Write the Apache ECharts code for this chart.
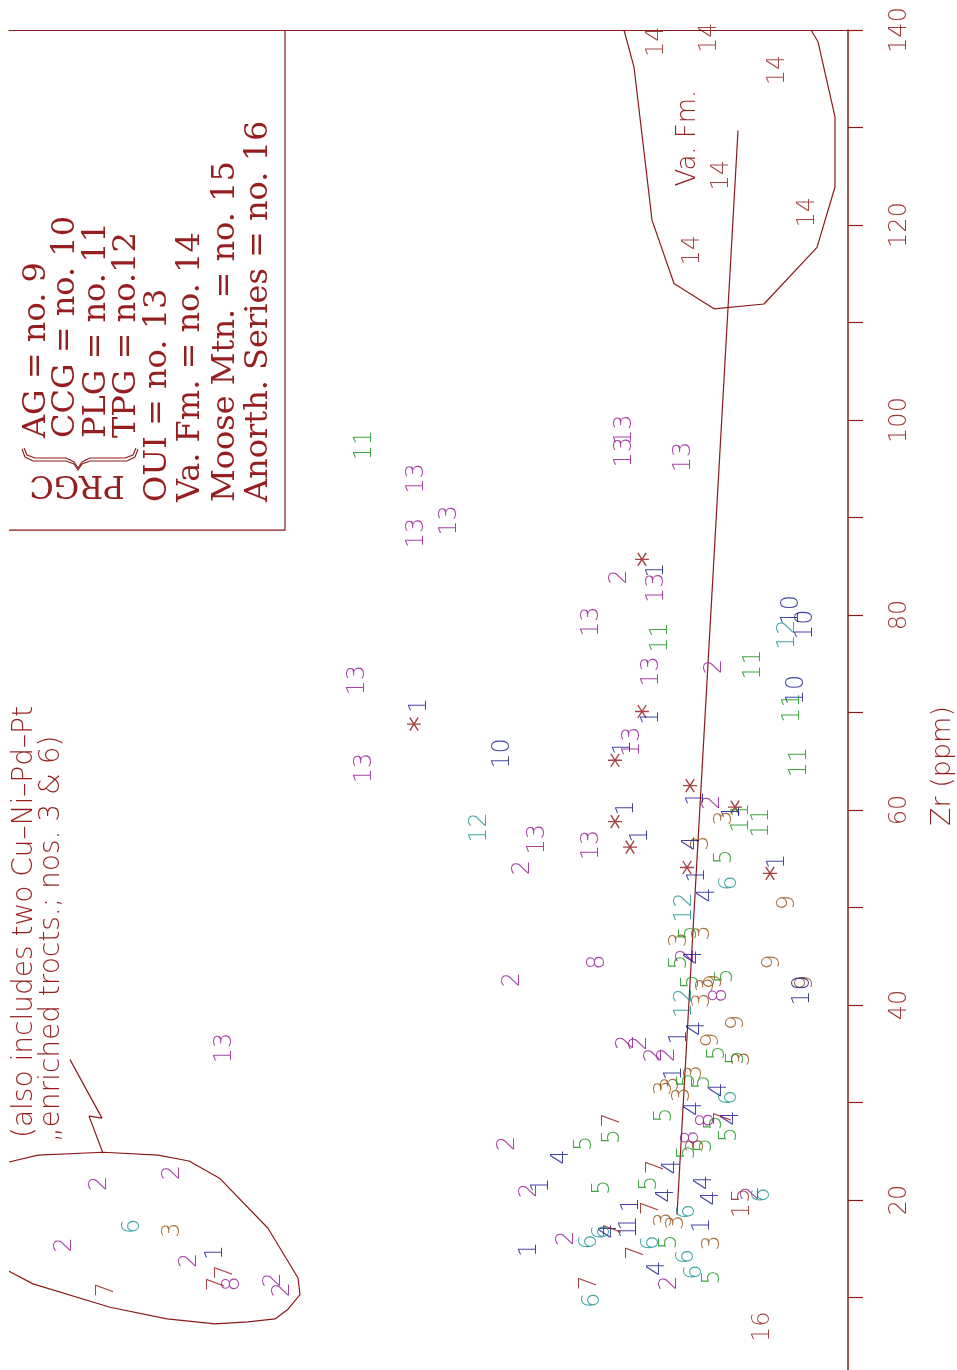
<!DOCTYPE html>
<html>
  <head>
    <meta charset="utf-8" />
    <title>Zr (ppm)</title>
    <script src="https://cdn.jsdelivr.net/npm/echarts/dist/echarts.min.js"></script>
    <style>html, body { margin: 0; padding: 0; background: #fff; }</style>
  </head>
  <body>
    <div id="main" style="width: 957px; height: 1370px;"></div>
    <script type="text/javascript">
      // points as [horizontal position (unlabelled axis), Zr ppm]
      var g1 = [[64.8, 84.6], [64.3, 69.5], [61.5, 66.4], [41.1, 70.7], [68.8, 61.2], [72.4, 59.8], [61.8, 60.2],
                [63.2, 57.4], [68.9, 53.3], [76.9, 54.7], [67.1, 36.7], [66.6, 33.0], [53.3, 21.5], [62.3, 19.5],
                [62.1, 17.6], [62.1, 16.8], [69.4, 17.4], [52.1, 14.9], [20.7, 14.6]];
      var g2 = [[61.1, 83.9], [70.6, 74.7], [70.4, 60.8], [51.4, 54.1], [67.8, 45.1], [50.4, 42.6], [61.8, 36.2],
                [63.1, 36.1], [64.6, 34.9], [65.9, 34.9], [49.9, 25.8], [52.1, 21.0], [74.3, 20.7], [55.8, 16.1],
                [66.1, 11.5], [9.1, 21.7], [16.4, 22.8], [5.6, 15.4], [18.1, 13.8], [26.5, 11.8], [27.4, 10.8]];
      var g3 = [[71.6, 59.2], [69.3, 56.6], [67.1, 46.7], [69.4, 47.4], [69.8, 42.1], [69.4, 40.5], [73.4, 34.5],
                [65.6, 31.5], [66.3, 31.9], [68.6, 33.1], [67.4, 30.8], [68.8, 25.6], [65.6, 18.0], [66.8, 17.7],
                [70.4, 15.6], [16.4, 16.9]];
      var g4 = [[68.4, 56.6], [69.9, 51.3], [68.6, 44.9], [68.9, 37.6], [71.1, 31.3], [68.6, 29.4], [72.3, 28.4],
                [55.3, 24.4], [66.4, 23.4], [65.8, 20.5], [69.6, 21.8], [70.3, 20.2], [60.1, 16.8], [64.9, 13.0]];
      var g5 = [[71.6, 55.2], [68.1, 47.4], [67.1, 44.4], [68.3, 42.4], [71.7, 43.0], [70.9, 35.1], [72.8, 34.6],
                [67.9, 32.3], [69.4, 32.1], [65.6, 28.7], [70.6, 27.9], [72.1, 26.7], [60.4, 26.5], [67.9, 24.9],
                [69.6, 25.6], [57.6, 25.8], [64.1, 21.7], [59.4, 21.3], [66.1, 15.7], [70.4, 12.1]];
      var g6 = [[72.1, 52.5], [72.1, 30.5], [75.4, 20.5], [67.9, 18.8], [59.4, 16.7], [58.1, 15.7], [64.3, 15.6],
                [67.8, 14.2], [68.6, 12.6], [58.4, 9.7], [12.4, 17.3]];
      var g7 = [[60.4, 28.2], [71.6, 28.4], [64.8, 23.4], [64.3, 19.2], [60.6, 16.9], [62.8, 14.6], [58.1, 11.5],
                [9.8, 10.8], [21.7, 12.6], [20.9, 11.4]];
      var g8 = [[58.9, 44.4], [71.1, 41.0], [69.8, 28.2], [68.3, 26.4], [22.4, 11.4]];
      var g9 = [[77.9, 50.5], [76.4, 44.4], [70.6, 42.4], [79.7, 42.3], [72.8, 38.2], [70.3, 36.4]];
      var g10 = [[78.3, 80.5], [79.7, 79.0], [78.8, 72.3], [49.4, 65.8], [79.4, 41.5]];
      var g11 = [[35.6, 97.4], [65.2, 77.7], [74.5, 74.9], [78.4, 70.5], [79.1, 64.9], [73.3, 59.2], [75.3, 58.7]];
      var g12 = [[77.9, 78.0], [47.1, 58.2], [67.6, 50.0], [67.6, 40.2]];
      var g13 = [[40.8, 94.0], [44.1, 89.7], [40.8, 88.4], [61.6, 99.0], [61.6, 96.7], [67.5, 96.2], [58.3, 79.3],
                 [64.8, 82.8], [64.3, 74.2], [34.9, 73.3], [35.6, 64.3], [62.4, 67.0], [52.9, 57.0], [58.3, 56.4],
                 [21.6, 35.6]];
      var g14 = [[64.8, 138.8], [70.1, 139.2], [76.9, 135.9], [71.3, 125.1], [79.9, 121.3], [68.4, 117.4]];
      var g15 = [[73.4, 19.7]];
      var g16 = [[75.4, 7.0]];
      var stars = [[63.3, 85.7], [63.3, 70.1], [60.6, 65.1], [40.5, 68.8], [68.1, 62.5], [72.6, 60.3], [60.6, 58.8],
                   [62.1, 56.2], [67.8, 54.1], [76.1, 53.5]];

      // drawn outlines
      var trendLine = [[72.9, 129.7], [66.8, 18.5]];
      var vaFmField = [[61.5, 140], [62.5, 136.2], [63.4, 128.4], [64.3, 120.5], [66.5, 114.0], [70.5, 111.4],
                       [75.5, 111.9], [80.8, 117.7], [82.6, 123.9], [82.6, 131.1], [80.9, 138.8], [80.2, 140]];
      var prgcField = [[0, 23.9], [2.9, 24.6], [9.4, 24.9], [14.9, 24.6], [18.0, 24.0], [21.1, 22.2], [25.9, 17.1],
                       [28.9, 12.0], [29.1, 10.3], [27.9, 8.8], [26.6, 7.8], [23.9, 7.5], [20.6, 7.3], [15.8, 7.8],
                       [10.1, 9.0], [2.4, 11.4], [0, 12.7]];
      var pointer = [[6.1, 34.4], [9.3, 28.4], [8.0, 28.6], [9.4, 24.8]];
      var keyBox = [[0, 88.7], [27.6, 88.7], [27.6, 140]];

      var zrTicks = [20, 40, 60, 80, 100, 120, 140];

      var BLUE = '#121290', PURPLE = '#901290', BROWN = '#904e10', GREEN = '#129012',
          TEAL = '#129090', RED = '#901414', LINE = '#8b1a1a', TXT = '#951e1e';

      var groups = [
        ['1', g1, BLUE], ['2', g2, PURPLE], ['3', g3, BROWN], ['4', g4, BLUE], ['5', g5, GREEN],
        ['6', g6, TEAL], ['7', g7, RED], ['8', g8, PURPLE], ['9', g9, BROWN], ['10', g10, BLUE],
        ['11', g11, GREEN], ['12', g12, TEAL], ['13', g13, PURPLE], ['14', g14, RED], ['15', g15, RED],
        ['16', g16, RED]
      ];

      var series = [];
      function outline(pts) {
        series.push({
          type: 'line', data: pts, symbol: 'none', silent: true, z: 1,
          lineStyle: { color: LINE, width: 1.2 }
        });
      }
      outline(trendLine);
      outline(vaFmField);
      outline(prgcField);
      outline(pointer);
      outline(keyBox);

      groups.forEach(function (g) {
        series.push({
          type: 'scatter', name: g[0], data: g[1], symbolSize: 0, silent: true, z: 3,
          label: {
            show: true, position: 'inside', rotate: 90, formatter: g[0], color: g[2],
            fontFamily: 'DejaVu Sans', fontSize: 24, fontWeight: 200
          }
        });
      });
      series.push({
        type: 'scatter', name: '*', data: stars, silent: true, z: 3,
        symbol: 'path://M0 5 L10 5 M2 0.5 L8 9.5 M2 9.5 L8 0.5',
        symbolSize: [14, 13],
        itemStyle: { color: 'none', borderColor: RED, borderWidth: 1.4 }
      });

      function vtext(x, y, text, font, align, rot) {
        return {
          type: 'text', x: x, y: y, rotation: rot === undefined ? Math.PI / 2 : rot, silent: true, z: 10,
          style: { text: text, x: 0, y: 0, font: font, fill: TXT, align: align || 'left', verticalAlign: 'middle' }
        };
      }
      var SERIF = '32px "DejaVu Serif"';
      var SANS = '200 28px "DejaVu Sans"';
      var graphics = [
        vtext(37, 438, 'AG = no. 9', SERIF),
        vtext(66, 438, 'CCG = no. 10', SERIF),
        vtext(97, 438, 'PLG = no. 11', SERIF),
        vtext(127, 438, 'TPG = no.12', SERIF),
        vtext(158, 502, 'OUI = no. 13', SERIF),
        vtext(191, 502, 'Va. Fm. = no. 14', SERIF),
        vtext(226, 502, 'Moose Mtn. = no. 15', SERIF),
        vtext(259, 502, 'Anorth. Series = no. 16', SERIF),
        vtext(77, 484, 'PRGC', SERIF, 'center', Math.PI),
        vtext(25, 1138, '(also includes two Cu\u2013Ni\u2013Pd\u2013Pt', SANS),
        vtext(52, 1142, '\u201eenriched trocts.; nos. 3 & 6)', SANS),
        vtext(688, 138, 'Va. Fm.', '200 26px "DejaVu Sans"', 'center'),
        vtext(943, 766, 'Zr (ppm)', '200 27px "DejaVu Sans"', 'center'),
        {
          type: 'polyline', silent: true, z: 10,
          shape: { points: [[22, 449], [25, 457], [33, 461], [66, 461], [74, 464], [78, 470], [82, 464], [90, 461], [127, 461], [135, 457], [138, 449]] },
          style: { stroke: LINE, lineWidth: 1.1, fill: null }
        },
        {
          type: 'polyline', silent: true, z: 10,
          shape: { points: [[24, 448], [27, 455], [35, 458], [66, 458], [74, 462], [78, 468], [82, 462], [90, 458], [125, 458], [133, 455], [136, 448]] },
          style: { stroke: LINE, lineWidth: 1.1, fill: null }
        }
      ];

      var myChart = echarts.init(document.getElementById('main'));
      myChart.setOption({
        animation: false,
        backgroundColor: '#fff',
        grid: { left: 9, top: 30, width: 839, height: 1365, outerBoundsMode: 'none', containLabel: false },
        xAxis: {
          type: 'value', min: 0, max: 83.9, position: 'top',
          axisLine: { show: true, onZero: false, lineStyle: { color: LINE, width: 1.2 } },
          axisTick: { show: false }, axisLabel: { show: false }, splitLine: { show: false }
        },
        yAxis: {
          type: 'value', min: 0, max: 140, interval: 10, position: 'right',
          axisLine: { show: true, onZero: false, lineStyle: { color: LINE, width: 1.5 } },
          axisTick: { show: true, length: 15, lineStyle: { color: LINE, width: 1.2 } },
          splitLine: { show: false },
          axisLabel: {
            rotate: 90, margin: 40, color: '#a03535', fontFamily: 'DejaVu Sans', fontSize: 24, fontWeight: 200,
            formatter: function (v) { return zrTicks.indexOf(v) >= 0 ? String(v) : ''; }
          }
        },
        series: series,
        graphic: graphics
      });
    </script>
  </body>
</html>
